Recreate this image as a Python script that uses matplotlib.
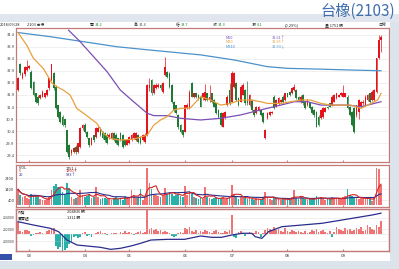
import matplotlib
matplotlib.use('Agg')
import matplotlib.pyplot as plt
from matplotlib.patches import Rectangle
import numpy as np
import pandas as pd

# ---------------- data ----------------
opens = [32.11, 33.18, 32.59, 32.76, 32.94, 33.04, 32.87, 32.46, 31.97, 31.83,
         31.79, 31.83, 31.83, 31.90, 32.18, 32.52, 32.80, 32.25, 31.48, 31.21,
         31.00, 30.89, 30.44, 29.82, 29.47, 29.54, 29.75, 29.54, 29.75, 30.51,
         30.65, 30.37, 30.09, 29.82, 30.23, 30.16, 30.37, 30.51, 30.37, 30.30, 30.23,
         30.09, 30.09, 30.30, 30.23, 30.09, 30.30,
         30.23, 30.02, 29.82, 29.89, 30.02, 30.09,
         30.02, 30.23, 30.16,
         30.02, 29.96, 30.23, 32.18, 32.52, 31.97, 32.18, 32.25, 32.32, 32.04,
         32.73, 32.87, 32.80, 32.32, 31.62, 31.48, 31.07, 30.65, 30.44, 30.37,
         31.34, 31.34, 32.39, 31.83, 31.97, 31.90, 31.83, 31.76, 31.69, 31.97,
         31.69, 31.97, 31.69, 31.55, 31.28, 31.14, 30.58, 30.93, 31.48, 32.11,
         31.62, 32.25, 32.39, 31.76, 31.62, 31.90, 32.11, 31.69, 31.48, 31.69,
         31.28, 31.14, 31.28, 31.28, 31.14, 30.09, 30.93, 31.07, 31.14, 31.83,
         31.41, 31.55, 31.62, 31.83, 31.69, 31.97, 32.04, 31.97, 32.11, 32.11,
         31.83, 31.62, 31.90, 31.62, 31.48, 31.55, 31.41, 31.28, 31.21, 31.00,
         30.93, 31.00, 31.21,
         31.41,
         31.55, 31.48, 31.62, 31.76, 31.83,
         31.90,
         31.83, 31.83, 31.83, 31.41, 31.21, 31.34, 31.07, 31.21, 31.41,
         31.55,
         31.48, 31.69, 31.97, 31.69, 31.69, 32.04, 33.43, 34.20]

closes = [32.59, 32.80, 32.80, 33.08, 33.08, 33.12, 32.18, 31.90, 31.62, 31.55,
          31.90, 32.04, 31.97, 32.11, 32.59, 33.18, 32.18, 31.34, 31.00, 30.79,
          30.65, 30.65, 29.54, 29.33, 29.61, 29.68, 29.54, 29.89, 30.51, 30.65,
          30.37, 30.16, 29.82, 30.09, 30.02, 30.51, 30.51, 30.23, 30.09, 30.02, 29.89,
          30.23, 30.30, 30.02, 29.89, 29.82, 30.02,
          29.75, 29.82, 30.02, 30.16, 30.23, 30.30,
          30.30, 29.96, 29.89,
          30.23, 30.23, 32.32, 32.32, 31.97, 32.32, 32.32, 32.32, 32.18, 32.39,
          33.08, 32.66, 32.25, 31.62, 31.28, 31.14, 30.58, 30.37, 30.23, 31.48,
          31.48, 32.04, 31.83, 31.97, 31.83, 31.76, 31.41, 31.97, 32.04, 31.69,
          31.83, 31.62, 31.41, 31.14, 31.00, 30.65, 31.14, 31.21, 31.83, 31.55,
          32.80, 32.80, 31.69, 31.48, 32.25, 32.32, 31.55, 31.55, 31.90, 31.28,
          31.07, 31.41, 31.41, 31.07, 30.79, 30.44, 31.14, 31.21, 31.21, 31.34,
          31.69, 31.76, 31.69, 31.62, 31.97, 31.83, 31.90, 32.18, 32.25, 31.76,
          31.69, 31.83, 31.55, 31.34, 31.69, 31.34, 31.14, 31.07, 30.58, 30.65,
          31.28, 31.34, 31.34,
          31.34,
          31.41, 31.83, 31.90, 31.97, 31.90,
          31.97,
          31.97, 31.97, 31.34, 31.07, 30.65, 30.37, 31.48, 31.69, 31.62,
          31.62,
          31.83, 31.90, 31.62, 32.04, 32.11, 33.43, 34.20, 34.30]

highs = [32.65, 33.25, 32.85, 33.12, 33.35, 33.15, 32.95, 32.50, 32.00, 31.88,
         31.95, 32.10, 32.00, 32.15, 32.62, 33.20, 32.85, 32.30, 31.50, 31.25,
         31.05, 30.90, 30.45, 29.85, 29.65, 29.75, 29.80, 29.90, 30.55, 30.70,
         30.72, 30.40, 30.10, 30.15, 30.25, 30.55, 30.60, 30.55, 30.40, 30.35, 30.30,
         30.30, 30.35, 30.35, 30.30, 30.12, 30.35,
         30.28, 30.05, 30.08, 30.20, 30.28, 30.35,
         30.35, 30.28, 30.20,
         30.28, 30.30, 32.35, 32.60, 32.55, 32.35, 32.40, 32.38, 32.35, 32.45,
         33.47, 32.90, 32.85, 32.35, 31.65, 31.50, 31.10, 30.70, 30.45, 31.50,
         31.55, 32.10, 32.46, 32.00, 32.00, 31.95, 31.88, 32.00, 32.35, 32.00,
         32.32, 32.00, 31.72, 31.58, 31.30, 31.20, 31.20, 31.25, 31.88, 32.39,
         32.90, 32.85, 32.45, 31.80, 32.30, 32.40, 32.15, 32.50, 31.95, 31.72,
         31.30, 31.45, 31.45, 31.30, 31.18, 30.50, 31.20, 31.25, 31.25, 31.88,
         31.72, 31.80, 31.75, 31.88, 32.00, 32.00, 32.08, 32.22, 32.35, 32.15,
         31.86, 31.88, 31.95, 31.65, 31.72, 31.58, 31.45, 31.30, 31.25, 31.05,
         31.30, 31.38, 31.40,
         31.45,
         31.58, 31.88, 31.95, 32.00, 31.95,
         32.02,
         32.32, 32.00, 31.88, 31.45, 31.25, 31.38, 31.50, 31.72, 31.65,
         31.68,
         31.88, 31.95, 32.00, 32.10, 32.15, 33.45, 34.40, 34.40]

lows = [32.05, 32.75, 32.55, 32.70, 32.90, 33.00, 32.15, 31.85, 31.58, 31.50,
        31.72, 31.80, 31.78, 31.85, 32.10, 32.50, 32.10, 31.30, 30.95, 30.75,
        30.60, 30.55, 29.50, 29.25, 29.40, 29.50, 29.45, 29.50, 29.70, 30.45,
        30.30, 30.10, 29.75, 29.80, 29.95, 30.10, 30.35, 30.20, 30.05, 29.95, 29.85,
        30.05, 30.05, 29.98, 29.85, 29.78, 30.00,
        29.70, 29.78, 29.80, 29.85, 30.00, 30.05,
        30.00, 29.92, 29.85,
        30.00, 29.92, 30.20, 32.05, 31.90, 31.95, 32.15, 32.20, 32.12, 32.00,
        32.70, 32.60, 32.20, 31.55, 31.20, 31.10, 30.50, 30.30, 30.15, 30.35,
        31.30, 31.30, 31.80, 31.78, 31.78, 31.70, 31.38, 31.70, 31.65, 31.65,
        31.60, 31.58, 31.38, 31.10, 30.95, 30.60, 30.55, 30.90, 31.45, 31.50,
        31.60, 32.20, 31.65, 31.45, 31.60, 31.88, 31.50, 31.50, 31.45, 31.25,
        31.00, 31.10, 31.25, 31.02, 30.75, 30.05, 30.90, 31.02, 31.10, 31.30,
        31.38, 31.50, 31.58, 31.58, 31.65, 31.80, 31.85, 31.95, 32.08, 31.72,
        31.65, 31.58, 31.50, 31.30, 31.45, 31.30, 31.10, 31.00, 30.55, 30.60,
        30.90, 30.95, 31.18,
        31.30,
        31.38, 31.45, 31.60, 31.72, 31.80,
        31.86,
        31.80, 31.80, 31.30, 31.02, 30.60, 30.33, 31.00, 30.90, 31.38,
        31.50,
        31.45, 31.65, 31.58, 31.65, 31.65, 32.00, 33.40, 33.70]

volumes = [1400, 900, 700, 800, 650, 500, 1000, 900, 750, 800,
           500, 450, 400, 500, 700, 1300, 1700, 1900, 1600, 1500,
           1200, 900, 2000, 1500, 700, 500, 600, 700, 1300, 900,
           700, 800, 1000, 600, 700, 1600, 700, 500, 600, 650,
           550, 500, 400, 600, 700, 500, 600, 450, 800, 600,
           500, 1300, 900, 600, 700, 1400, 450, 600, 3300, 2000,
           1400, 1000, 900, 800, 700, 800, 1500, 900, 1200, 1000,
           800, 900, 1000, 800, 700, 1700, 900, 1200, 1000, 700,
           600, 500, 600, 500, 1600, 700, 600, 500, 600, 700,
           500, 600, 700, 500, 600, 700, 1800, 1000, 700, 500,
           700, 800, 600, 500, 600, 500, 400, 600, 500, 400,
           700, 1200, 600, 500, 400, 700, 600, 500, 400, 500,
           600, 500, 400, 700, 1300, 600, 500, 700, 600, 500,
           400, 500, 600, 500, 800, 600, 700, 500, 400, 500,
           600, 700, 600, 500, 600, 500, 700, 760, 1400, 900,
           800, 700, 600, 500, 700, 600, 500, 600, 500, 350,
           700, 3300, 3200, 1751]

foreign_net = [1200, 300, 200, 400, 450, 300, -200, -100, 100, 150,
               200, 100, 50, 300, 400, 500, 600, -1200, -1500, -1300,
               -1700, -1600, -1400, -1000, -800, -300, -200, -400, -300, 100,
               200, -150, -100, -300, 50, 100, 200, 300, 150, 100,
               -100, 50, 100, 150, 100, 50, 200, 100, 300, 150,
               200, 100, -100, 150, 200, 300, 150, 200, 2400, 500,
               600, 400, 500, 300, 400, 200, 300, 200, 100, -200,
               -300, -150, 100, 200, 150, 600, 500, 700, 300, 200,
               400, 100, 300, 200, 400, 300, 200, 100, 300, 400,
               200, 100, 150, 300, 200, 400, 1900, -300, -400, 200,
               300, 100, -200, 100, 200, 150, 100, 300, 200, -300,
               100, 400, 600, 500, 300, 700, 400, 500, 300, 200,
               600, 300, 200, 400, 300, 200, 300, 200, 150, 300,
               100, 200, 400, 300, 500, 200, 300, 400, 200, 100,
               300, -300, 200, 700, 500, 400, 300, 600, 400, 500,
               300, 400, 600, 500, 700, 300, 400, 900, 700, 500,
               400, 900, 700, 1311]

ma20_idx = [0, 3.9, 6.9, 11.4, 15.2, 17.4, 20.4, 23.4, 26.4, 29.4,
            32.4, 35.4, 38.4, 41.4, 46, 52, 58, 61, 64, 67,
            70, 73, 77.5, 82, 86.5, 91, 95.5, 100, 104.5, 109,
            112, 118, 122.5, 127, 131.5, 136, 140.5, 145, 149.5, 154,
            158.5, 161.5, 163]
ma20_val = [34.5, 33.98, 33.43, 33.0, 32.4, 32.25, 32.1, 31.9, 31.34, 31.14,
            30.93, 30.72, 30.3, 30.09, 30.02, 30.06, 30.23, 30.65, 30.86, 31.0,
            31.28, 31.34, 31.37, 31.83, 31.69, 31.48, 31.55, 31.69, 31.69, 31.62,
            31.55, 31.55, 31.62, 31.69, 31.69, 31.55, 31.48, 31.48, 31.48, 31.34,
            31.55, 31.69, 31.97]

ma60_idx = [22.7, 27.9, 33.9, 40, 45.9, 51.9, 58, 61, 67, 73, 82, 91, 100,
            109, 118, 124, 130, 136, 142, 148, 154, 160, 163]
ma60_val = [34.6, 34.12, 33.5, 32.87, 32.11, 31.62, 31.14, 31.04, 31.04, 30.93,
            30.86, 30.93, 31.07, 31.28, 31.48, 31.62, 31.62, 31.48, 31.48, 31.48,
            31.41, 31.55, 31.62]

ma240_idx = [0, 14.4, 29.4, 44.4, 59.5, 82, 97, 112, 121, 134.5, 149.5, 163]
ma240_val = [34.5, 34.33, 34.12, 33.91, 33.77, 33.57, 33.36, 33.08, 33.01,
             32.98, 32.94, 32.91]

hold_idx = [0, 6.9, 14.5, 18.2, 22, 26.5, 31, 37, 41.6, 46, 50.7, 55, 59.7,
            67, 74.8, 82, 87, 91.4, 96, 100.5, 105, 106.5, 109.5, 112.5,
            118.5, 127.5, 136.5, 145.5, 150, 154.5, 159, 163]
hold_val = [203360, 202780, 202210, 201620, 200170, 199300, 199130, 198900,
            198550, 198730, 199130, 199590, 200170, 200290, 200290, 200870,
            200640, 200640, 201040, 201340, 201340, 200750, 200460, 201620,
            202490, 202780, 203080, 203650, 203940, 204230, 204520, 204836]

price_ticks = [34.4, 33.9, 33.4, 32.9, 32.4, 31.9, 31.4, 30.9, 30.4, 29.9, 29.4]
vol_ticks = [2400, 1400, 400]
hold_ticks = [204000, 202000, 200000]
month_pos = [5, 30, 50, 75, 96, 121, 146]
month_labels = ['03', '04', '05', '06', '07', '08', '09']

# ---------------- style ----------------
RED = '#e3141c'
GREEN = '#1f7a33'
VRED = '#f07272'
VTEAL = '#27b1a8'
ORANGE = '#e9a03c'
PURPLE = '#7b4fb4'
BLUE = '#4a92cc'
NAVY = '#2b2d8c'
SPINE = '#c47a7a'
GRID = '#c9c9c9'
TXT = '#3a3a3a'
CJK = ['Noto Sans CJK TC', 'DejaVu Sans']
FS = 2.8

plt.rcParams['font.family'] = ['DejaVu Sans']

W, H = 399, 269
fig = plt.figure(figsize=(W / 100, H / 100), dpi=100)
fig.patch.set_facecolor('white')


def rect(x0, y0, x1, y1):
    return [x0 / W, 1 - y1 / H, (x1 - x0) / W, (y1 - y0) / H]


def ptext(x, y, s, color=TXT, size=FS, ha='left', family=CJK, **kw):
    fig.text(x / W, 1 - y / H, s, color=color, fontsize=size, ha=ha,
             va='center', family=family, **kw)


def band(x0, y0, x1, y1, color):
    fig.patches.append(Rectangle((x0 / W, 1 - y1 / H), (x1 - x0) / W,
                                 (y1 - y0) / H, transform=fig.transFigure,
                                 facecolor=color, edgecolor='none', zorder=0))


band(0, 14, 399, 21.5, '#e0e5ee')
band(390, 21.5, 399, 269, '#dde3eb')
band(0, 261, 399, 269, '#dde3eb')
band(0, 254, 12, 259.5, '#3552a8')

n = min(len(opens), len(closes), len(highs), len(lows), len(volumes), len(foreign_net))
o = np.array(opens[:n]); c = np.array(closes[:n])
h = np.array(highs[:n]); l = np.array(lows[:n])
x = np.arange(n)
up = c >= o
XL = (-0.9, 166.6)

ax1 = fig.add_axes(rect(16, 28, 389, 162))
ax2 = fig.add_axes(rect(16, 165, 389, 207))
ax3 = fig.add_axes(rect(16, 209, 389, 251))


def style(ax, ysize=FS):
    for s in ax.spines.values():
        s.set_color(SPINE)
        s.set_linewidth(0.9)
    ax.tick_params(axis='y', length=0, labelsize=ysize, labelcolor=TXT, pad=1.2)
    ax.tick_params(axis='x', length=1.5, direction='in', color=SPINE,
                   labelsize=FS, labelcolor=TXT, pad=2)
    ax.set_xlim(*XL)
    ax.set_xticks(month_pos)
    ax.grid(axis='y', color=GRID, lw=0.4, ls=(0, (1, 1)))
    ax.set_axisbelow(True)


# main candle panel
style(ax1, 2.6)
col = np.where(up, RED, GREEN)
ax1.vlines(x, l, h, colors=col, linewidth=0.5, zorder=2)
ax1.bar(x, np.maximum(np.abs(c - o), 0.02), bottom=np.minimum(o, c), width=0.78,
        color=col, linewidth=0, zorder=3)
ax1.plot(ma240_idx, ma240_val, color=BLUE, lw=0.9, zorder=4)
ax1.plot(ma60_idx, ma60_val, color=PURPLE, lw=0.9, zorder=4)
ax1.plot(ma20_idx, ma20_val, color=ORANGE, lw=0.9, zorder=4)
ax1.set_ylim(29.11, 34.69)
ax1.set_yticks(price_ticks)
ax1.set_yticklabels([f'{p:.1f}' for p in price_ticks])
ax1.set_xticklabels([])

# volume panel
style(ax2, 2.6)
vcol = np.where(up, VRED, VTEAL)
v = np.array(volumes[:n])
ax2.bar(x, v, width=0.78, color=vcol, linewidth=0, zorder=2)
vs = pd.Series(v)
ax2.plot(x, vs.rolling(20, min_periods=1).mean(), color=NAVY, lw=0.8, zorder=3)
ax2.plot(x, vs.rolling(5, min_periods=1).mean(), color='#d42424', lw=0.8, zorder=3)
ax2.set_ylim(-200, 3600)
ax2.set_yticks(vol_ticks)
ax2.set_yticklabels([str(t) for t in vol_ticks])
ax2.set_xticklabels([])

# foreign investors panel
style(ax3, 2.2)
ax3b = ax3.twinx()
fn = np.array(foreign_net[:n])
ax3b.bar(x, fn, width=0.78, color=np.where(fn >= 0, VRED, VTEAL), linewidth=0)
ax3b.axhline(0, color=GRID, lw=0.4, ls=(0, (1, 1)))
ax3b.set_ylim(-1700, 2500)
ax3b.set_yticks([])
ax3b.set_xlim(*XL)
for s in ax3b.spines.values():
    s.set_color(SPINE)
    s.set_linewidth(0.9)
ax3.set_zorder(ax3b.get_zorder() + 1)
ax3.patch.set_visible(False)
ax3.plot(hold_idx, hold_val, color=NAVY, lw=0.9)
ax3.set_ylim(198261, 205565)
ax3.set_yticks(hold_ticks)
ax3.set_yticklabels([str(t) for t in hold_ticks])
ax3.tick_params(axis='y', pad=0.8)
ax3.set_xticklabels(month_labels)

# title and header
ptext(395, 11.5, '台橡(2103)', color='#3f6fae', size=11, ha='right')
GR = '#1c8a2a'
ptext(0, 25, '2018/09/28', color='#222222')
ptext(27, 25, '2103 台橡', color='#222222')
ptext(90, 25, '開', color='#222222'); ptext(95, 25, '34.2', color=GR)
ptext(134, 25, '高', color='#222222'); ptext(139, 25, '34.4', color='#555555')
ptext(176, 25, '低', color='#222222'); ptext(181, 25, '33.7', color=GR)
ptext(213, 25, '收', color='#222222'); ptext(218, 25, '34.3', color=GR)
ptext(252, 25, '漲', color='#222222'); ptext(257, 25, '0.1', color=GR)
ptext(285, 25, '(0.29%)', color='#222222')
ptext(325, 25, '量 1751 張', color='#222222')
ptext(378, 25, '日線', color='#222222')

# main legend
ptext(226, 38.3, 'M60', color=PURPLE)
ptext(226, 42.3, 'M20', color=ORANGE)
ptext(226, 46.5, 'M240', color=BLUE)
ptext(272, 38.3, '31.61↑', color=PURPLE)
ptext(272, 42.3, '31.95↑', color=ORANGE)
ptext(272, 46.5, '32.93↓', color=BLUE)

# volume legend
ptext(19, 168, 'VOL', color='#222222')
ptext(19, 171.5, '5', color='#d42424')
ptext(19, 175, '20', color=NAVY)
ptext(66, 168, '1751↓', color='#222222')
ptext(66, 171.5, '1860↑', color='#d42424')
ptext(66, 175, '983↑', color=NAVY)

# foreign legend
ptext(18, 212, '外資', color='#222222')
ptext(18, 218, '買賣超', color='#222222')
ptext(67, 212, '204836 張', color='#222222')
ptext(67, 218, '1311 張', color='#222222')

fig.savefig('out.png', dpi=100, facecolor='white')
